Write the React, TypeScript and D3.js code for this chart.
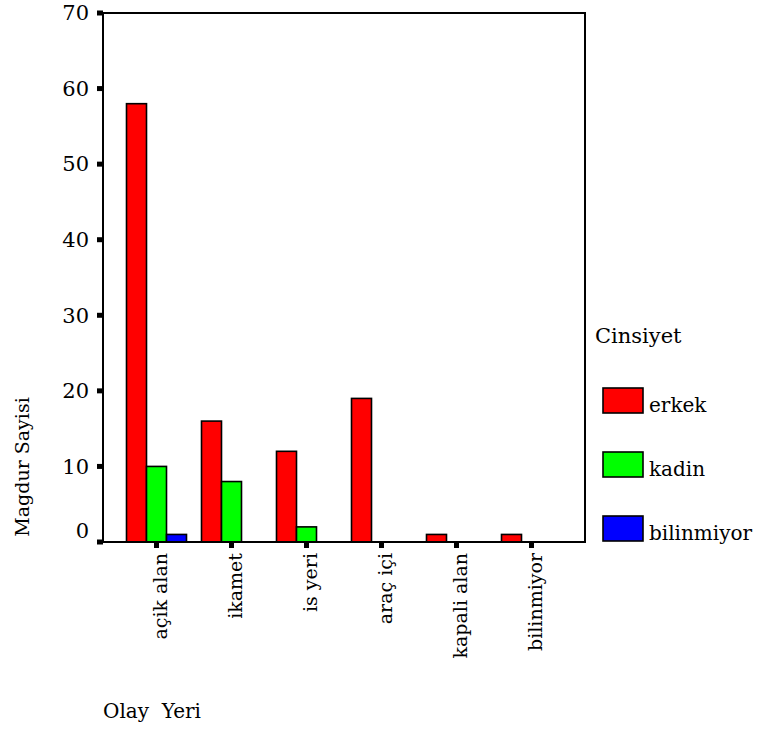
import React from 'react';
import * as d3 from 'd3';

// Olay Yeri categories
const categories = ['açik alan', 'ikamet', 'is yeri', 'araç içi', 'kapali alan', 'bilinmiyor'];
// Cinsiyet series
const seriesNames = ['erkek', 'kadin', 'bilinmiyor'];
const seriesColors = ['#ff0000', '#00ff00', '#0000ff'];
const erkek = [58, 16, 12, 19, 1, 1];
const kadin = [10, 8, 2, 0, 0, 0];
const bilinmiyor = [1, 0, 0, 0, 0, 0];
const yTicks = [0, 10, 20, 30, 40, 50, 60, 70];

const W = 760;
const H = 729;
const margin = { top: 13, right: 175, bottom: 187, left: 103 };
const txt: React.CSSProperties = { fontFamily: "'DejaVu Serif', serif" };

const App: React.FC = () => {
  const values = [erkek, kadin, bilinmiyor];
  const x0 = margin.left;
  const x1 = W - margin.right;
  const y0 = H - margin.bottom;

  const xScale = d3.scaleBand<string>()
    .domain(categories)
    .range([x0 + 16, x1 - 16])
    .paddingInner(0.2)
    .paddingOuter(0.1);

  const inner = d3.scaleBand<string>()
    .domain(seriesNames)
    .range([0, xScale.bandwidth()]);

  const yScale = d3.scaleLinear().domain([0, 70]).range([y0, margin.top]);

  const center = (c: string) => (xScale(c) ?? 0) + xScale.bandwidth() / 2;

  return (
    <div style={{ position: 'absolute', left: 0, top: 0 }}>
      <svg width={W} height={H} style={{ display: 'block', background: '#fff' }}>
        {/* bars */}
        {seriesNames.map((s, si) =>
          categories.map((c, ci) => {
            const v = values[si][ci];
            if (!v) return null;
            return (
              <rect
                key={s + c}
                x={(xScale(c) ?? 0) + (inner(s) ?? 0)}
                y={yScale(v)}
                width={inner.bandwidth()}
                height={y0 - yScale(v)}
                fill={seriesColors[si]}
                stroke="#000"
                strokeWidth={1.6}
              />
            );
          })
        )}

        {/* frame */}
        <rect x={x0} y={margin.top} width={x1 - x0} height={y0 - margin.top} fill="none" stroke="#000" strokeWidth={2} />

        {/* y ticks */}
        {yTicks.map(t => (
          <g key={t}>
            <line x1={x0 - 6} x2={x0} y1={yScale(t)} y2={yScale(t)} stroke="#000" strokeWidth={5} />
            <text
              style={txt}
              x={x0 - 14}
              y={yScale(t) - (t === 0 ? 11 : 0)}
              textAnchor="end"
              dy="0.35em"
              fontSize={21}
              fill="#000"
            >
              {t}
            </text>
          </g>
        ))}

        {/* x ticks and labels */}
        {categories.map(c => (
          <g key={c}>
            <line x1={center(c)} x2={center(c)} y1={y0} y2={y0 + 6} stroke="#000" strokeWidth={5} />
            <text
              style={txt}
              transform={`translate(${center(c) + 4},${y0 + 11}) rotate(-90)`}
              textAnchor="end"
              dy="0.33em"
              fontSize={19}
              fill="#000"
            >
              {c}
            </text>
          </g>
        ))}

        {/* axis titles */}
        <text
          style={txt}
          transform="translate(22,467) rotate(-90)"
          textAnchor="middle"
          dy="0.35em"
          fontSize={19}
          fill="#000"
        >
          Magdur Sayisi
        </text>
        <text style={{ ...txt, whiteSpace: 'pre' }} x={103} y={718} fontSize={20} fill="#000">
          Olay  Yeri
        </text>

        {/* legend */}
        <text style={txt} x={595} y={343} fontSize={21} fill="#000">Cinsiyet</text>
        {seriesNames.map((s, i) => (
          <g key={s} transform={`translate(603,${388 + i * 64})`}>
            <rect width={40} height={25} fill={seriesColors[i]} stroke="#000" strokeWidth={1.6} />
            <text style={txt} x={46} y={24} fontSize={20} fill="#000">{s}</text>
          </g>
        ))}
      </svg>
    </div>
  );
};

export default App;
